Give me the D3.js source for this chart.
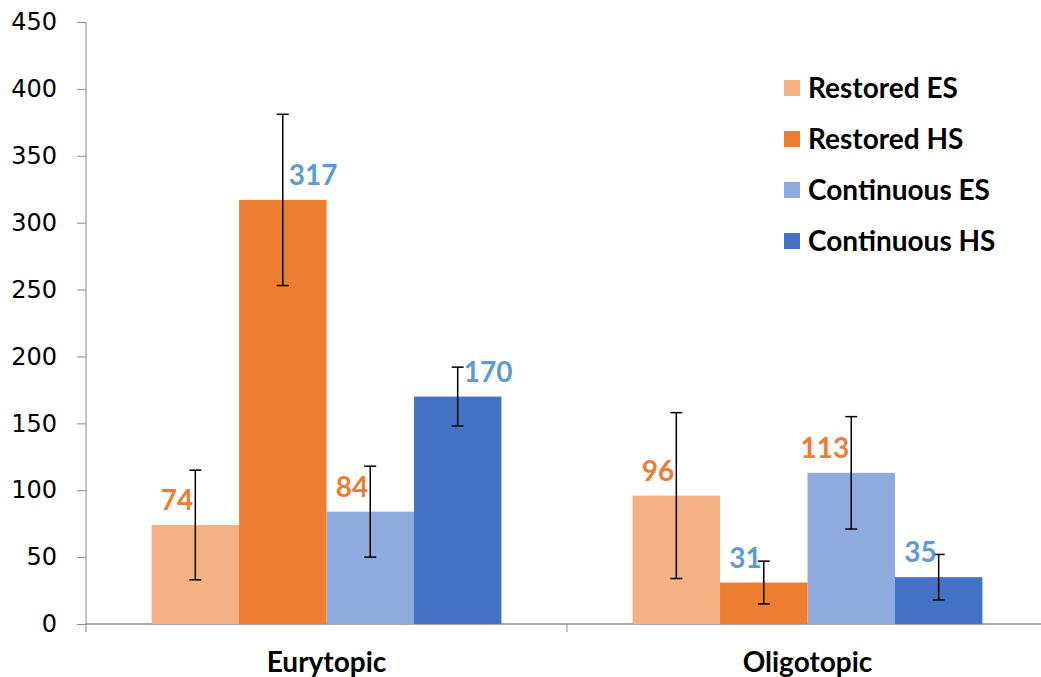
<!DOCTYPE html>
<html>
<head>
<meta charset="utf-8">
<script src="https://cdn.jsdelivr.net/npm/d3@7"></script>
<style>
  html, body { margin: 0; padding: 0; background: #fff; }
  svg { display: block; }
</style>
</head>
<body>
<div id="chart"></div>
<script>
// data
const categories = ["Eurytopic", "Oligotopic"];
const series = ["Restored ES", "Restored HS", "Continuous ES", "Continuous HS"];
const values = {
  "Eurytopic":  [74, 317, 84, 170],
  "Oligotopic": [96, 31, 113, 35]
};
const errors = {
  "Eurytopic":  [41, 64, 34, 22],
  "Oligotopic": [62, 16, 42, 17]
};
// which side of the error bar each value label sits on
const labelSide = {
  "Eurytopic":  ["left", "right", "left", "right"],
  "Oligotopic": ["left", "left", "left", "left"]
};
const yTicks = [0, 50, 100, 150, 200, 250, 300, 350, 400, 450];

const colors = ["#F4B183", "#ED7D31", "#8FAADC", "#4472C4"];
const labelColors = ["#ED7D31", "#5B9BD5", "#ED7D31", "#5B9BD5"];

const width = 1041, height = 677;
const axisColor = "#8c8c8c";

const svg = d3.select("#chart").append("svg")
  .attr("width", width)
  .attr("height", height);

const x0 = d3.scaleBand().domain(categories).range([86, 1048]);
const x1 = d3.scaleBand().domain(series).range([0, x0.bandwidth()]).paddingOuter(0.75);
const y = d3.scaleLinear().domain([0, 450]).range([624, 22]);

// y axis
const yAxis = svg.append("g")
  .attr("transform", "translate(86,0)")
  .call(d3.axisLeft(y).tickValues(yTicks).tickSize(9).tickPadding(20));
yAxis.select(".domain").attr("stroke", axisColor).attr("d", "M0,22V632");
yAxis.selectAll(".tick line").attr("stroke", axisColor);
yAxis.selectAll(".tick text")
  .attr("font-family", "DejaVu Sans, sans-serif")
  .attr("font-size", 24)
  .attr("fill", "#000");

// x axis
const xAxis = svg.append("g")
  .attr("transform", "translate(0,624)");
xAxis.append("line")
  .attr("x1", 86).attr("x2", width)
  .attr("stroke", axisColor).attr("stroke-width", 1.5);
xAxis.selectAll(".sep")
  .data(categories.slice(1))
  .enter().append("line")
  .attr("x1", d => x0(d)).attr("x2", d => x0(d))
  .attr("y1", 0).attr("y2", 8)
  .attr("stroke", axisColor);
xAxis.selectAll(".cat")
  .data(categories)
  .enter().append("text")
  .attr("x", d => x0(d) + x0.bandwidth() / 2)
  .attr("y", 48)
  .attr("text-anchor", "middle")
  .attr("font-family", "Lato, sans-serif")
  .attr("font-weight", "bold")
  .attr("font-size", 28)
  .attr("fill", "#000")
  .text(d => d);

// bars
const rows = categories.flatMap(c => series.map((s, i) => ({
  cat: c, s, i, v: values[c][i], e: errors[c][i], side: labelSide[c][i]
})));

const g = svg.append("g");
g.selectAll("rect")
  .data(rows)
  .enter().append("rect")
  .attr("x", d => x0(d.cat) + x1(d.s))
  .attr("y", d => y(d.v))
  .attr("width", x1.bandwidth())
  .attr("height", d => y(0) - y(d.v))
  .attr("fill", d => colors[d.i]);

// error bars
const cx = d => x0(d.cat) + x1(d.s) + x1.bandwidth() / 2;
const eb = svg.append("g").attr("stroke", "#000").attr("stroke-width", 1.5);
eb.selectAll(".stem")
  .data(rows)
  .enter().append("line")
  .attr("x1", cx).attr("x2", cx)
  .attr("y1", d => y(d.v + d.e)).attr("y2", d => y(d.v - d.e));
eb.selectAll(".capT")
  .data(rows)
  .enter().append("line")
  .attr("x1", d => cx(d) - 6).attr("x2", d => cx(d) + 6)
  .attr("y1", d => y(d.v + d.e)).attr("y2", d => y(d.v + d.e));
eb.selectAll(".capB")
  .data(rows)
  .enter().append("line")
  .attr("x1", d => cx(d) - 6).attr("x2", d => cx(d) + 6)
  .attr("y1", d => y(d.v - d.e)).attr("y2", d => y(d.v - d.e));

// value labels
svg.selectAll(".val")
  .data(rows)
  .enter().append("text")
  .attr("x", d => d.side === "right" ? cx(d) + 6 : cx(d) - 2)
  .attr("y", d => y(d.v) - 15)
  .attr("text-anchor", d => d.side === "right" ? "start" : "end")
  .attr("font-family", "Lato, sans-serif")
  .attr("font-weight", "bold")
  .attr("font-size", 28)
  .attr("fill", d => labelColors[d.i])
  .text(d => d.v);

// legend
const legend = svg.append("g").attr("transform", "translate(784,88)");
const items = legend.selectAll("g")
  .data(series)
  .enter().append("g")
  .attr("transform", (d, i) => `translate(0,${i * 51})`);
items.append("rect")
  .attr("x", 0).attr("y", -8)
  .attr("width", 16).attr("height", 16)
  .attr("fill", (d, i) => colors[i]);
items.append("text")
  .attr("x", 24).attr("y", 10)
  .attr("font-family", "Lato, sans-serif")
  .attr("font-weight", "bold")
  .attr("font-size", 28)
  .attr("fill", "#000")
  .text(d => d);
</script>
</body>
</html>
